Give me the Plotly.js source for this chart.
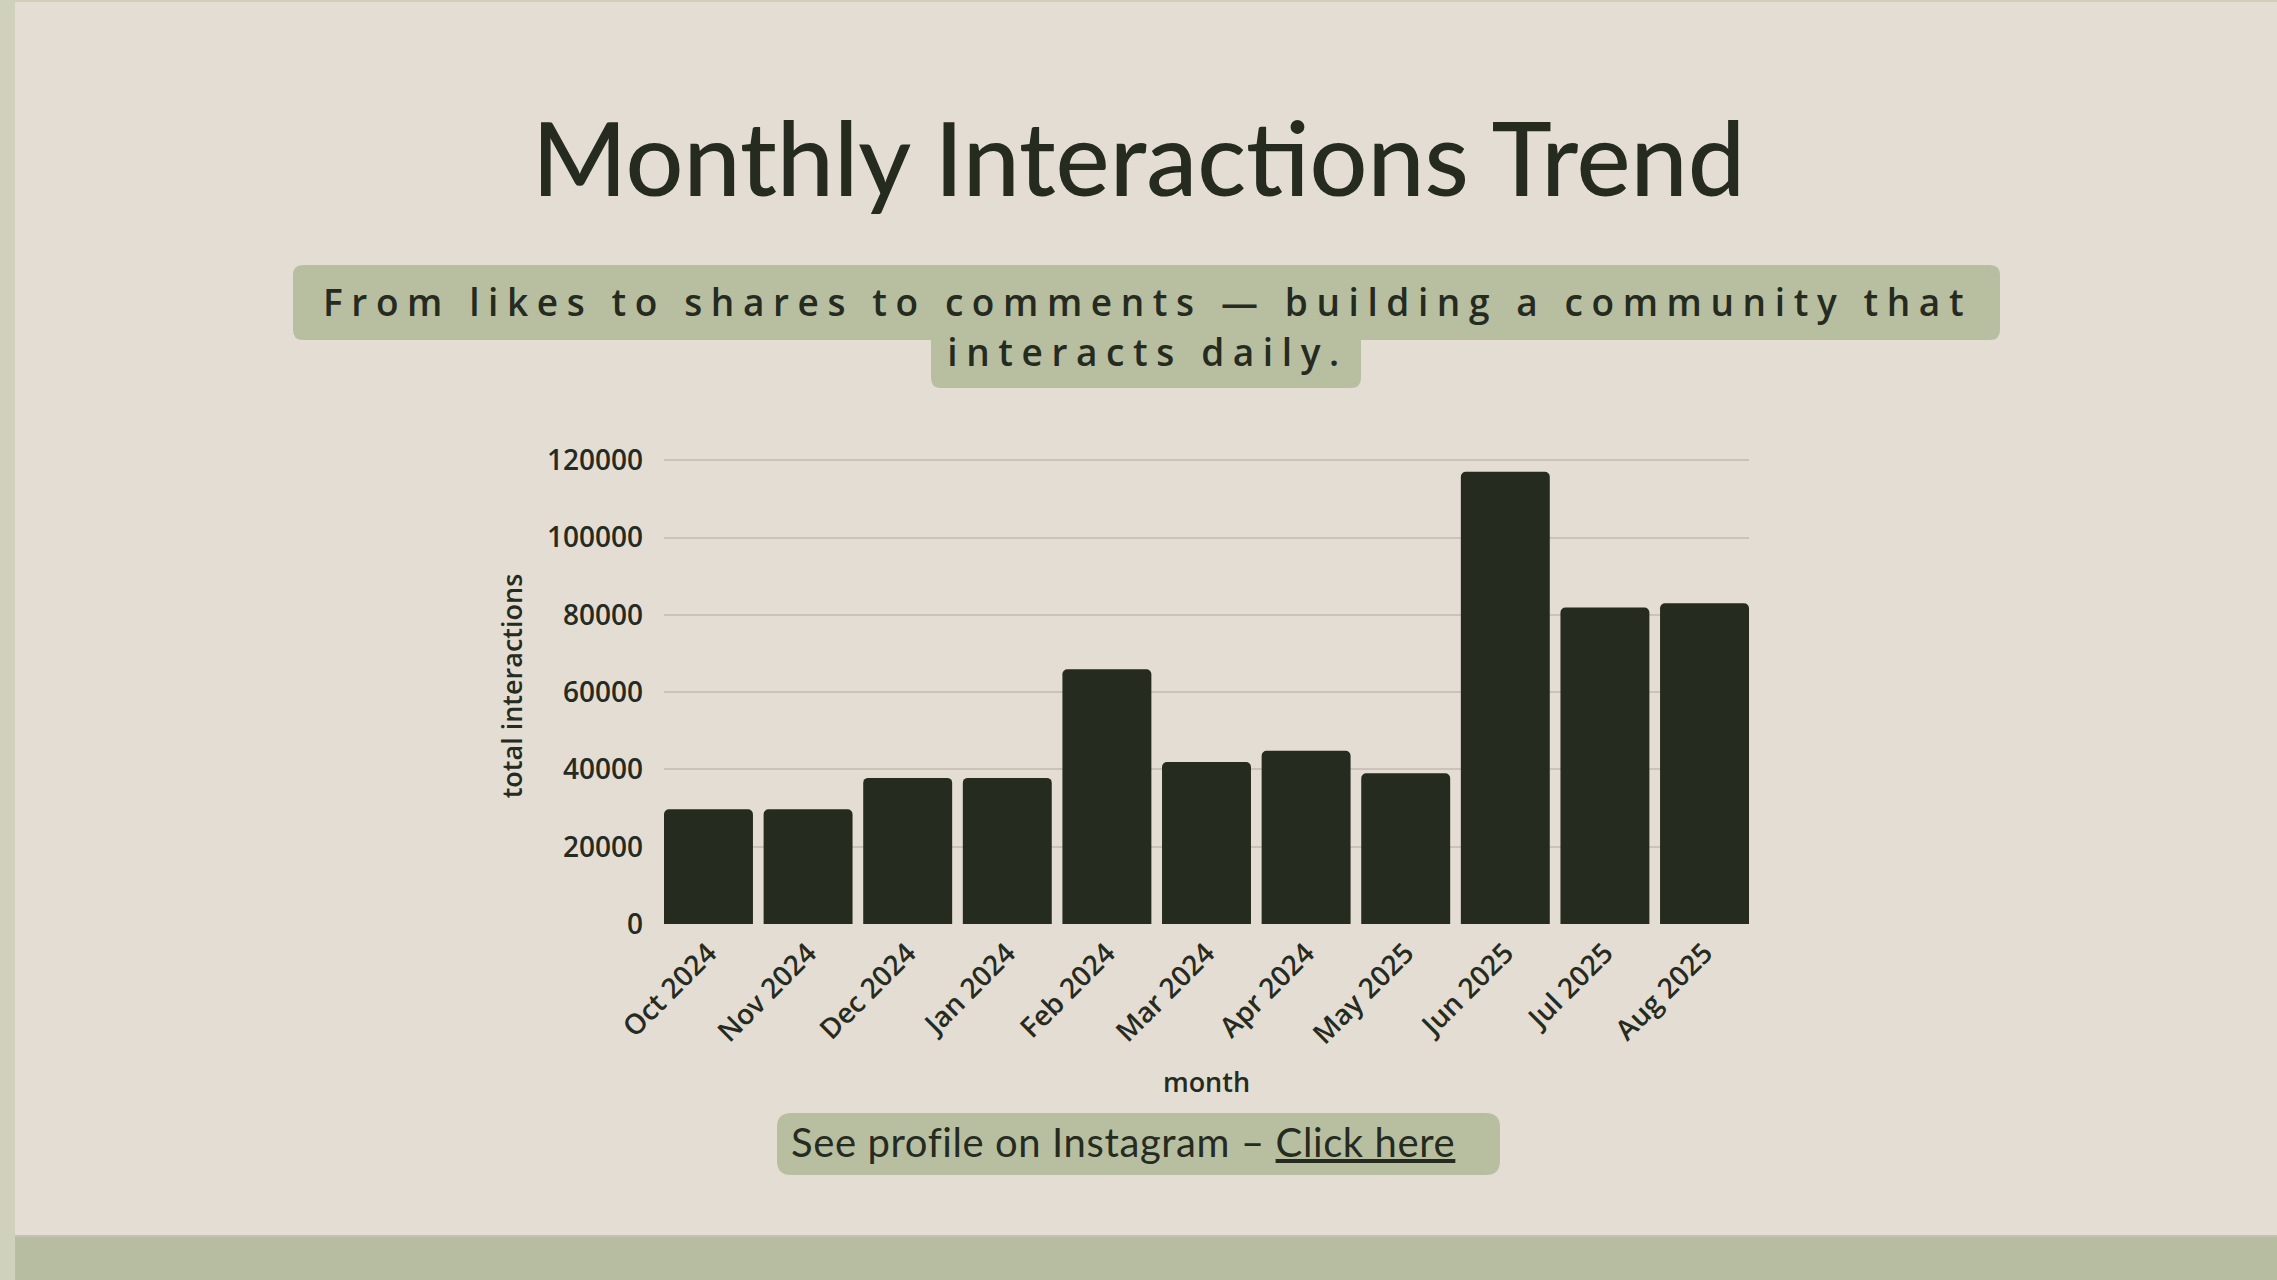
<!DOCTYPE html>
<html>
<head>
<meta charset="utf-8">
<script src="https://cdn.plot.ly/plotly-3.0.1.min.js"></script>
<style>
  html, body { margin: 0; padding: 0; background: #e4ddd4; }
  #chart { width: 2277px; height: 1280px; }
</style>
</head>
<body>
<div id="chart"></div>
<script>
// ---- data ----
const months = ['Oct 2024','Nov 2024','Dec 2024','Jan 2024','Feb 2024','Mar 2024','Apr 2024','May 2025','Jun 2025','Jul 2025','Aug 2025'];
const interactions = [29700, 29700, 37800, 37800, 65900, 41900, 44800, 39000, 117000, 81900, 83000];
const yTicks = [0, 20000, 40000, 60000, 80000, 100000, 120000];

const titleText = 'Monthly Interactions Trend';
const subtitleLine1 = 'From likes to shares to comments \u2014 building a community that';
const subtitleLine2 = 'interacts daily.';
const linkText = 'See profile on Instagram \u2013 ';
const linkLabel = 'Click here';

// ---- layout helpers ----
const W = 2277, H = 1280;
const L = 664, R = 1749, T = 448, B = 924;
const px2x = p => (p - L) / (R - L);
const py2y = p => (B - p) / (B - T);

function roundRect(x0, y0, x1, y1, r) {
  const X = px2x, Y = py2y;
  return 'M ' + X(x0 + r) + ',' + Y(y0) +
    ' L ' + X(x1 - r) + ',' + Y(y0) +
    ' Q ' + X(x1) + ',' + Y(y0) + ' ' + X(x1) + ',' + Y(y0 + r) +
    ' L ' + X(x1) + ',' + Y(y1 - r) +
    ' Q ' + X(x1) + ',' + Y(y1) + ' ' + X(x1 - r) + ',' + Y(y1) +
    ' L ' + X(x0 + r) + ',' + Y(y1) +
    ' Q ' + X(x0) + ',' + Y(y1) + ' ' + X(x0) + ',' + Y(y1 - r) +
    ' L ' + X(x0) + ',' + Y(y0 + r) +
    ' Q ' + X(x0) + ',' + Y(y0) + ' ' + X(x0 + r) + ',' + Y(y0) + ' Z';
}
function rect(x0, y0, x1, y1, color) {
  return {type: 'rect', xref: 'paper', yref: 'paper', x0: px2x(x0), x1: px2x(x1),
          y0: py2y(y1), y1: py2y(y0), fillcolor: color, line: {width: 0}, layer: 'below'};
}

const dark = '#262b1f';
const sage = '#b8bfa1';
const nBars = months.length;
const edge = 0.4465;

const trace = {
  type: 'bar',
  x: months,
  y: interactions,
  marker: {color: '#252b1f', cornerradius: 5},
  hoverinfo: 'x+y'
};

const axisFont = {family: 'Open Sans, sans-serif', size: 27, color: dark, weight: 600};
const tickFont = {family: 'Open Sans, sans-serif', size: 28, color: dark, weight: 600};

const subStyle = 'letter-spacing:8.6px;font-size:37px';

const layout = {
  width: W, height: H,
  paper_bgcolor: '#e4ddd4',
  plot_bgcolor: '#e4ddd4',
  margin: {l: L, r: W - R, t: T, b: H - B, pad: 0},
  bargap: 0.107,
  showlegend: false,
  title: {
    text: titleText,
    xref: 'container', yref: 'container',
    x: 0.5, y: 1 - 160 / H, xanchor: 'center', yanchor: 'middle',
    font: {family: 'Lato, sans-serif', size: 102, color: dark, weight: 500}
  },
  xaxis: {
    type: 'category',
    range: [-edge, nBars - 1 + edge],
    tickangle: -45,
    tickfont: tickFont,
    ticks: '',
    ticklabelstandoff: 6,
    showgrid: false,
    zeroline: false,
    showline: false,
    title: {text: 'month', font: axisFont, standoff: 22}
  },
  yaxis: {
    tickvals: yTicks,
    tickformat: 'd',
    tickfont: tickFont,
    ticks: '',
    ticklabelstandoff: 20,
    showgrid: true,
    gridcolor: '#cbc2b8',
    gridwidth: 1.5,
    zeroline: false,
    showline: false,
    title: {text: 'total interactions', font: axisFont, standoff: 16}
  },
  shapes: [
    rect(0, 0, 15, H, '#cfd1bc'),
    rect(0, 0, W, 2, '#cfd1bc'),
    rect(15, 1236, W, H, '#b6bda0'),
    rect(15, 1235, W, 1237, '#c6c1ae'),
    {type: 'path', xref: 'paper', yref: 'paper', path: roundRect(293, 265, 2000, 340, 10), fillcolor: sage, line: {width: 0}, layer: 'below'},
    {type: 'path', xref: 'paper', yref: 'paper', path: roundRect(931, 330, 1361, 388, 10), fillcolor: sage, line: {width: 0}, layer: 'below'},
    {type: 'path', xref: 'paper', yref: 'paper', path: roundRect(777, 1113, 1500, 1175, 14), fillcolor: sage, line: {width: 0}, layer: 'below'}
  ],
  annotations: [
    {xref: 'paper', yref: 'paper', x: px2x(1147), y: py2y(326), xanchor: 'center', yanchor: 'middle',
     showarrow: false, align: 'center',
     text: '<span style="' + subStyle + '">' + subtitleLine1 + '</span><br>' +
           '<span style="' + subStyle + '">' + subtitleLine2 + '</span>',
     font: {family: 'Open Sans, sans-serif', size: 38.5, color: dark, weight: 600}},
    {xref: 'paper', yref: 'paper', x: px2x(789), y: py2y(1142), xanchor: 'left', yanchor: 'middle',
     showarrow: false,
     text: '<span style="letter-spacing:0.6px">' + linkText + '<span style="text-decoration:underline">' + linkLabel + '</span></span>',
     font: {family: 'Lato, sans-serif', size: 40, color: dark}}
  ]
};

Plotly.newPlot('chart', [trace], layout, {displayModeBar: false});
</script>
</body>
</html>
